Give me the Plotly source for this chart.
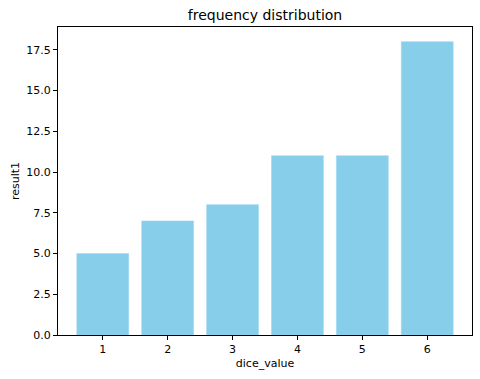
import plotly.graph_objects as go

dice_values = [1, 2, 3, 4, 5, 6]
counts = [5, 7, 8, 11, 11, 18]
y_ticks = [0.0, 2.5, 5.0, 7.5, 10.0, 12.5, 15.0, 17.5]
y_tick_labels = ["0.0", "2.5", "5.0", "7.5", "10.0", "12.5", "15.0", "17.5"]

fig = go.Figure(go.Bar(
    x=dice_values, y=counts, width=0.8,
    marker=dict(color="#87CEEB", line=dict(color="#9fd8ef", width=0.6)),
))

font = "DejaVu Sans, sans-serif"
axis_common = dict(showgrid=False, zeroline=False, showline=True, linecolor="black",
                   linewidth=1, mirror=True, ticks="outside", ticklen=4, tickwidth=1,
                   tickcolor="black", automargin=False,
                   tickfont=dict(family=font, size=11, color="black"))

fig.update_layout(
    width=480, height=379,
    margin=dict(l=58, r=8, t=27, b=44, autoexpand=False),
    plot_bgcolor="white", paper_bgcolor="white",
    title=dict(text="frequency distribution", x=0.5, xanchor="center",
               y=1 - 15 / 379, yanchor="middle", xref="paper", yref="container",
               font=dict(family=font, size=14, color="black")),
    xaxis=dict(range=[0.31, 6.69], tickvals=dice_values, ticktext=[str(v) for v in dice_values],
               title=dict(text="dice_value", font=dict(family=font, size=11, color="black"), standoff=4),
               **axis_common),
    yaxis=dict(range=[0, 18.9], tickvals=y_ticks, ticktext=y_tick_labels,
               title=dict(text="result1", font=dict(family=font, size=11, color="black"), standoff=4),
               **axis_common),
    showlegend=False,
)

fig.write_html(
    "out.html",
    config={"displayModeBar": False},
    post_script="document.documentElement.style.margin='0';document.body.style.margin='0';"
                "document.body.style.overflow='hidden';",
)
